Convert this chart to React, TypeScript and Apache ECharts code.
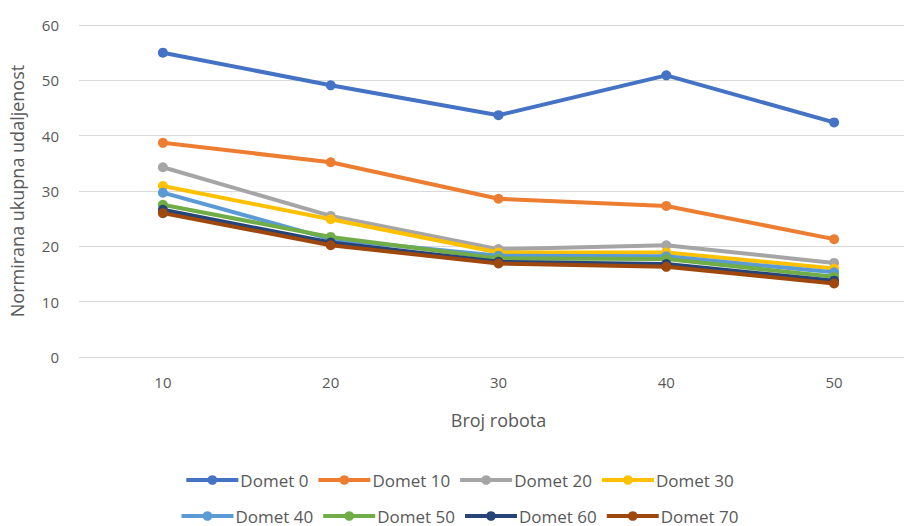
import React, { useEffect, useRef } from "react";
import * as echarts from "echarts";

const categories = ["10", "20", "30", "40", "50"];
const seriesNames = ["Domet 0", "Domet 10", "Domet 20", "Domet 30", "Domet 40", "Domet 50", "Domet 60", "Domet 70"];
const domet0 = [55.0, 49.1, 43.7, 50.9, 42.4];
const domet10 = [38.7, 35.2, 28.6, 27.3, 21.3];
const domet20 = [34.3, 25.5, 19.5, 20.2, 17.0];
const domet30 = [30.9, 24.9, 18.9, 18.9, 16.0];
const domet40 = [29.7, 21.3, 18.3, 18.2, 15.3];
const domet50 = [27.5, 21.7, 17.8, 17.7, 14.5];
const domet60 = [26.6, 20.7, 17.2, 16.8, 13.8];
const domet70 = [26.0, 20.2, 16.9, 16.3, 13.3];
const allValues = [domet0, domet10, domet20, domet30, domet40, domet50, domet60, domet70];
const colors = ["#4472C4", "#ED7D31", "#A5A5A5", "#FFC000", "#5B9BD5", "#70AD47", "#264478", "#9E480E"];

const FONT = "'Open Sans', 'Liberation Sans', sans-serif";
const TXT = "#595959";

export default function App() {
  const ref = useRef<HTMLDivElement>(null);
  useEffect(() => {
    document.body.style.margin = "0";
    document.body.style.overflow = "hidden";
    const chart = echarts.init(ref.current!, null, { renderer: "svg" });
    const legendCommon = {
      orient: "horizontal" as const,
      left: "center",
      padding: 0,
      itemWidth: 52,
      itemHeight: 12,
      itemGap: 8,
      lineStyle: { width: 4 },
      textStyle: { color: TXT, fontSize: 17, lineHeight: 18, fontFamily: FONT, padding: [0, 0, 0, -3] },
    };
    chart.setOption({
      animation: false,
      backgroundColor: "#ffffff",
      textStyle: { fontFamily: FONT },
      grid: { left: 78, top: 25, width: 840, height: 332, containLabel: false },
      legend: [
        { ...legendCommon, top: 471, data: seriesNames.slice(0, 4) },
        { ...legendCommon, top: 507, data: seriesNames.slice(4) },
      ],
      xAxis: {
        type: "category",
        data: categories,
        boundaryGap: true,
        name: "Broj robota",
        nameLocation: "middle",
        nameGap: 54,
        nameTextStyle: { color: TXT, fontSize: 18, fontFamily: FONT },
        axisLine: { show: true, lineStyle: { color: "#D9D9D9", width: 1 } },
        axisTick: { show: false },
        axisLabel: { color: TXT, fontSize: 15, fontFamily: FONT, margin: 17 },
      },
      yAxis: {
        type: "value",
        min: 0,
        max: 60,
        interval: 10,
        name: "Normirana ukupna udaljenost",
        nameLocation: "middle",
        nameGap: 53,
        nameTextStyle: { color: TXT, fontSize: 18, fontFamily: FONT },
        axisLine: { show: false },
        axisTick: { show: false },
        axisLabel: { color: TXT, fontSize: 15, fontFamily: FONT, margin: 20 },
        splitLine: { lineStyle: { color: "#D9D9D9", width: 1 } },
      },
      series: seriesNames.map((name, i) => ({
        name,
        type: "line",
        data: allValues[i],
        symbol: "circle",
        symbolSize: 10,
        color: colors[i],
        lineStyle: { width: 4, color: colors[i] },
        itemStyle: { color: colors[i] },
        z: 10 + i,
      })),
    });
    return () => chart.dispose();
  }, []);
  return <div ref={ref} style={{ width: 918, height: 526 }} />;
}
